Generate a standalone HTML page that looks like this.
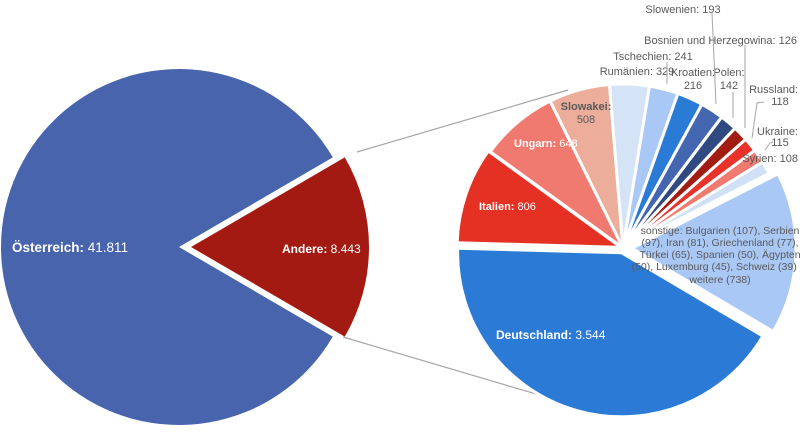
<!DOCTYPE html>
<html><head><meta charset="utf-8"><style>
body{margin:0;background:#fff}
svg text{font-family:"Liberation Sans",sans-serif}
</style></head><body>
<svg id="c" width="800" height="429" viewBox="0 0 800 429">
<g id="lines">
<line x1="357" y1="152" x2="568" y2="90" stroke="#a6a6a6" stroke-width="1.2"/>
<line x1="343" y1="337" x2="570" y2="404" stroke="#a6a6a6" stroke-width="1.2"/>
</g>
<g id="left"></g>
<g id="right"></g>
<g id="labels" font-size="11" fill="#595959">
<text x="12" y="252" fill="#fff" font-size="13.5"><tspan font-weight="bold">Österreich:</tspan> 41.811</text>
<text x="282" y="253" fill="#fff" font-size="12"><tspan font-weight="bold">Andere:</tspan> 8.443</text>
<text x="496" y="339" fill="#fff" font-size="12"><tspan font-weight="bold">Deutschland:</tspan> 3.544</text>
<text x="479" y="210" fill="#fff" font-size="11"><tspan font-weight="bold">Italien:</tspan> 806</text>
<text x="514" y="147" fill="#fff" font-size="11"><tspan font-weight="bold">Ungarn:</tspan> 648</text>
<text x="586" y="110" text-anchor="middle" font-weight="bold" font-size="11">Slowakei:</text>
<text x="586" y="123" text-anchor="middle" font-size="11">508</text>
<text x="637" y="75" text-anchor="middle">Rumänien: 329</text>
<text x="653" y="60" text-anchor="middle">Tschechien: 241</text>
<text x="693" y="76" text-anchor="middle">Kroatien:</text>
<text x="693" y="89" text-anchor="middle">216</text>
<text x="729" y="76" text-anchor="middle">Polen:</text>
<text x="729" y="89" text-anchor="middle">142</text>
<text x="683" y="13" text-anchor="middle">Slowenien: 193</text>
<text x="797" y="44" text-anchor="end">Bosnien und Herzegowina: 126</text>
<text x="798" y="93" text-anchor="end">Russland:</text>
<text x="780" y="105" text-anchor="middle">118</text>
<text x="798" y="135" text-anchor="end">Ukraine:</text>
<text x="780" y="146" text-anchor="middle">115</text>
<text x="798" y="162" text-anchor="end">Syrien: 108</text>
<g text-anchor="middle" font-size="10.5">
<text x="720" y="234">sonstige: Bulgarien (107), Serbien</text>
<text x="720" y="246">(97), Iran (81), Griechenland (77),</text>
<text x="720" y="258">Türkei (65), Spanien (50), Ägypten</text>
<text x="720" y="270">(50), Luxemburg (45), Schweiz (39) u.</text>
<text x="720" y="283">weitere (738)</text>
</g>
<g stroke="#a6a6a6" fill="none" stroke-width="1">
<polyline points="712,13 716,104"/>
<polyline points="745,45 745,128"/>
<polyline points="733,92 733,118"/>
<polyline points="667,62 667,84"/>
<polyline points="764,102 757,103 752,138"/>
<polyline points="773,142 770,143 765,150"/>
</g>
</g>
</svg>
<script>
const leftCats=["Österreich","Andere"];
const leftVals=[41811,8443];
const rightCats=["Italien","Ungarn","Slowakei","Rumänien","Tschechien","Kroatien","Slowenien","Polen","Bosnien und Herzegowina","Russland","Ukraine","Syrien","sonstige","Deutschland"];
const rightVals=[806,648,508,329,241,216,193,142,126,118,115,108,1349,3544];
const leftColors=["#4864ad","#a21a11"];
const rightColors=["#e43124","#f07a70","#ecae9b","#d4e3f6","#a9c8f5","#2a7bd5","#4466b0","#2f4a80","#a31c12","#e8322a","#f07a70","#d0e1f7","#a9c8f5","#2b7bd6"];
const NS="http://www.w3.org/2000/svg";
function arc(cx,cy,r,a0,a1){
  const d=Math.PI/180;
  const x0=cx+r*Math.cos(a0*d),y0=cy+r*Math.sin(a0*d),x1=cx+r*Math.cos(a1*d),y1=cy+r*Math.sin(a1*d);
  return `M${cx},${cy}L${x0},${y0}A${r},${r} 0 ${a1-a0>180?1:0} 1 ${x1},${y1}Z`;
}
function pie(g,cats,vals,colors,cx,cy,r,start,explode,name){
  const tot=vals.reduce((a,b)=>a+b,0);
  let a=start;
  vals.forEach((v,i)=>{
    const span=v/tot*360, mid=(a+span/2)*Math.PI/180, e=explode[i]||0;
    const p=document.createElementNS(NS,"path");
    p.setAttribute("d",arc(cx+e*Math.cos(mid),cy+e*Math.sin(mid),r,a,a+span));
    p.setAttribute("fill",colors[i]);
    p.setAttribute("stroke","#fff");
    p.setAttribute("stroke-width",name==="left"?"0":"3");
    
    
    g.appendChild(p);
    a+=span;
  });
}
const lt=leftVals[1]/(leftVals[0]+leftVals[1])*360;
pie(document.getElementById("left"),leftCats,leftVals,leftColors,179,247,178,lt/2,[0,12],"left");
const dSpan=rightVals[13]/rightVals.reduce((a,b)=>a+b,0)*360;
pie(document.getElementById("right"),rightCats,rightVals,rightColors,623,248,164,30.5+dSpan-360,[2,0,0,0,0,0,0,0,0,0,0,0,9,5],"right");
</script>
</body></html>
